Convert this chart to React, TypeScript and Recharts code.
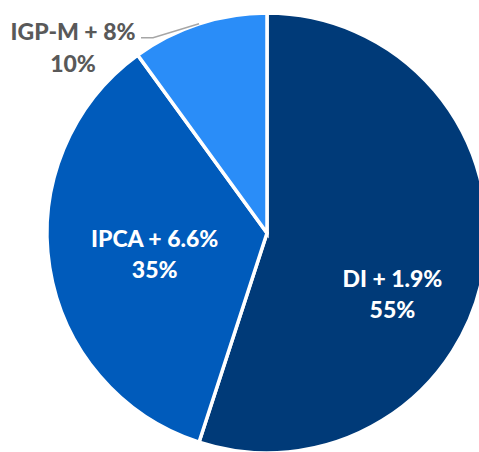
import { PieChart, Pie, Cell } from "recharts";

const categories = ["DI + 1.9%", "IPCA + 6.6%", "IGP-M + 8%"];
const shares = [55, 35, 10];
const colors = ["#003A78", "#005BBB", "#2A8DF8"];

const data = categories.map((name, i) => ({ name, value: shares[i] }));

const RAD = Math.PI / 180;
const FONT = "Lato, 'Open Sans', sans-serif";

// label placement per slice: polar offset from the centre (inside) or outside with a leader
const labelLayout = [
  { r: 143, angle: -28.7 },
  { r: 116, angle: -165.5 },
];

function renderLabel(props: any) {
  const { cx, cy, midAngle, outerRadius, index, name, value } = props;
  if (index < 2) {
    const { r, angle } = labelLayout[index];
    const x = cx + r * Math.cos(angle * RAD);
    const y = cy - r * Math.sin(angle * RAD);
    return (
      <text x={x} y={y} fill="#fff" textAnchor="middle" fontFamily={FONT} fontWeight={900} fontSize={23}>
        <tspan x={x} dy={-15}>{name}</tspan>
        <tspan x={x} dy={31}>{value}%</tspan>
      </text>
    );
  }
  const sx = cx + outerRadius * Math.cos(midAngle * RAD);
  const sy = cy - outerRadius * Math.sin(midAngle * RAD);
  const ex = sx - 58;
  const ey = sy + 14;
  const tx = ex - 68;
  return (
    <g>
      <polyline points={`${sx},${sy} ${ex + 12},${ey} ${ex},${ey}`} fill="none" stroke="#A6A6A6" strokeWidth={1.5} />
      <text x={tx} y={ey + 2} fill="#595959" textAnchor="middle" fontFamily={FONT} fontWeight={900} fontSize={23}>
        <tspan x={tx} dy={0}>{name}</tspan>
        <tspan x={tx} dy={32}>{value}%</tspan>
      </text>
    </g>
  );
}

export default function App() {
  return (
    <div style={{ position: "absolute", left: 0, top: 0, width: 479, height: 452, background: "#fff" }}>
      <PieChart width={479} height={452} margin={{ top: 0, right: 0, bottom: 0, left: 0 }}>
        <Pie
          data={data}
          dataKey="value"
          nameKey="name"
          cx={267}
          cy={233}
          outerRadius={220}
          startAngle={90}
          endAngle={-270}
          stroke="#fff"
          strokeWidth={3.5}
          labelLine={false}
          label={renderLabel}
          isAnimationActive={false}
        >
          {data.map((d, i) => (
            <Cell key={d.name} fill={colors[i]} />
          ))}
        </Pie>
      </PieChart>
    </div>
  );
}
